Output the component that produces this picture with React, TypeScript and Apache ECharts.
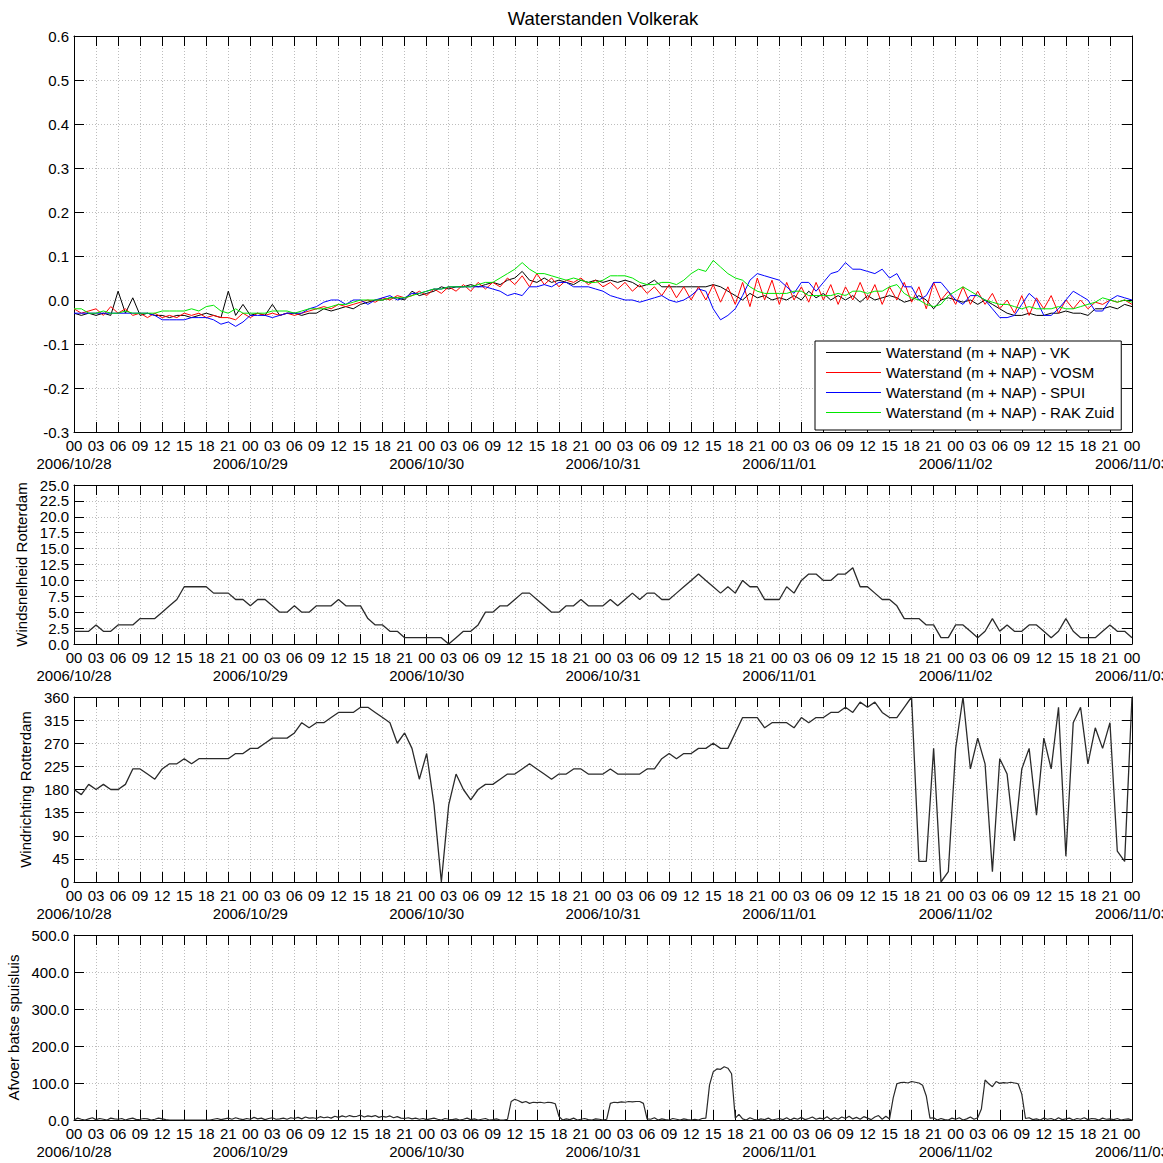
import React, { useEffect, useRef } from "react";
import * as echarts from "echarts";

const FONT = "'Liberation Sans', Arial, sans-serif";

const dayLabels = ["2006/10/28", "2006/10/29", "2006/10/30", "2006/10/31", "2006/11/01", "2006/11/02", "2006/11/03"];

const seriesNames = [
  "Waterstand (m + NAP) - VK",
  "Waterstand (m + NAP) - VOSM",
  "Waterstand (m + NAP) - SPUI",
  "Waterstand (m + NAP) - RAK Zuid",
];

// hourly water levels, 2006/10/28 00:00 .. 2006/11/03 00:00
const levelVK = [
  -0.03, -0.035, -0.03, -0.035, -0.03, -0.035, 0.02, -0.03, 0.005, -0.035, -0.03, -0.035,
  -0.035, -0.04, -0.035, -0.035, -0.04, -0.035, -0.03, -0.035, -0.04, 0.02, -0.035, -0.01,
  -0.035, -0.03, -0.035, -0.01, -0.035, -0.03, -0.03, -0.035, -0.03, -0.03, -0.02, -0.025,
  -0.02, -0.015, -0.02, -0.01, -0.005, 0.0, 0.0, 0.005, 0.005, 0.0, 0.02, 0.01,
  0.015, 0.02, 0.03, 0.025, 0.03, 0.03, 0.035, 0.03, 0.035, 0.04, 0.035, 0.045,
  0.05, 0.065, 0.045, 0.04, 0.05, 0.04, 0.045, 0.04, 0.035, 0.045, 0.04, 0.045,
  0.04, 0.045, 0.04, 0.045, 0.04, 0.03, 0.035, 0.045, 0.03, 0.03, 0.03, 0.03,
  0.03, 0.03, 0.03, 0.035, 0.03, 0.02, 0.01, 0.0, 0.015, 0.005, 0.01, 0.0,
  0.005, 0.0, 0.01, 0.0, 0.02, 0.005, 0.015, 0.0, 0.01, 0.0, 0.01, -0.005,
  0.01, 0.0, 0.005, 0.01, 0.005, -0.005, 0.0, 0.01, 0.0, -0.02, 0.0, 0.005,
  0.0, -0.005, 0.0, -0.01, 0.0, -0.01, -0.02, -0.03, -0.035, -0.035, -0.03, -0.035,
  -0.035, -0.03, -0.03, -0.025, -0.03, -0.03, -0.035, -0.02, -0.02, -0.015, -0.02, -0.01,
  -0.015,
];

const levelVOSM = [
  -0.02, -0.03, -0.025, -0.02, -0.035, -0.015, -0.03, -0.02, -0.035, -0.03, -0.04, -0.03,
  -0.04, -0.035, -0.04, -0.03, -0.035, -0.03, -0.04, -0.035, -0.04, -0.04, -0.045, -0.03,
  -0.04, -0.03, -0.035, -0.03, -0.035, -0.03, -0.035, -0.03, -0.025, -0.02, -0.015, -0.02,
  -0.01, -0.015, -0.01, -0.005, 0.0, -0.005, 0.005, 0.0, 0.01, 0.005, 0.01, 0.02,
  0.01, 0.025, 0.015, 0.03, 0.02, 0.035, 0.02, 0.04, 0.025, 0.04, 0.03, 0.05,
  0.035, 0.055, 0.03, 0.06, 0.035, 0.05, 0.03, 0.045, 0.04, 0.05, 0.035, 0.045,
  0.03, 0.04, 0.025, 0.04, 0.02, 0.035, 0.015, 0.03, 0.01, 0.035, 0.005, 0.03,
  0.0, 0.03, 0.0, 0.035, -0.005, 0.03, -0.01, 0.04, -0.015, 0.05, 0.0, 0.045,
  -0.01, 0.04, 0.0, 0.03, -0.005, 0.04, 0.0, 0.035, -0.01, 0.03, 0.0, 0.04,
  0.0, 0.035, -0.01, 0.03, 0.0, 0.04, -0.005, 0.03, -0.02, 0.04, 0.0, 0.02,
  -0.01, 0.03, -0.01, 0.02, -0.01, 0.015, -0.02, 0.0, -0.03, 0.01, -0.035, 0.005,
  -0.02, 0.01, -0.03, 0.0, -0.02, 0.0, -0.02, -0.005, -0.01, 0.0, -0.005, 0.0,
  -0.01,
];

const levelSPUI = [
  -0.03, -0.03, -0.03, -0.03, -0.03, -0.03, -0.03, -0.03, -0.03, -0.03, -0.03, -0.035,
  -0.045, -0.045, -0.045, -0.045, -0.04, -0.04, -0.04, -0.045, -0.055, -0.05, -0.06, -0.05,
  -0.035, -0.035, -0.035, -0.04, -0.035, -0.03, -0.03, -0.03, -0.02, -0.015, -0.005, 0.0,
  0.0, -0.01, 0.0, 0.0, -0.01, 0.0, 0.005, 0.01, 0.0, 0.005, 0.015, 0.015,
  0.02, 0.025, 0.025, 0.03, 0.03, 0.03, 0.03, 0.03, 0.03, 0.025, 0.02, 0.01,
  0.015, 0.01, 0.03, 0.03, 0.035, 0.03, 0.04, 0.04, 0.03, 0.03, 0.03, 0.025,
  0.02, 0.01, 0.005, 0.0, 0.0, -0.005, 0.0, 0.005, 0.01, 0.0, -0.005, 0.0,
  0.01, 0.025, 0.02, -0.02, -0.045, -0.035, -0.02, 0.01, 0.045, 0.06, 0.055, 0.05,
  0.045, 0.03, 0.015, 0.04, 0.04, 0.02, 0.04, 0.06, 0.065, 0.085, 0.07, 0.07,
  0.065, 0.06, 0.07, 0.05, 0.06, 0.03, 0.03, 0.0, 0.01, 0.04, 0.04, 0.02,
  0.0, -0.01, 0.01, 0.01, 0.0, -0.02, -0.04, -0.04, -0.035, -0.01, 0.015, 0.0,
  -0.035, -0.035, -0.02, 0.0, 0.02, 0.01, 0.0, -0.025, -0.025, 0.0, 0.01, 0.005,
  0.0,
];

const levelRAK = [
  -0.02, -0.02, -0.03, -0.03, -0.025, -0.03, -0.03, -0.025, -0.03, -0.03, -0.03, -0.03,
  -0.025, -0.025, -0.025, -0.025, -0.02, -0.025, -0.015, -0.012, -0.025, -0.03, -0.02, -0.03,
  -0.03, -0.03, -0.03, -0.025, -0.025, -0.025, -0.03, -0.025, -0.02, -0.02, -0.02, -0.015,
  -0.01, -0.01, -0.005, 0.0, 0.0, 0.0, 0.0, 0.005, 0.005, 0.005, 0.01, 0.015,
  0.02, 0.025, 0.025, 0.03, 0.03, 0.03, 0.03, 0.035, 0.04, 0.04, 0.05, 0.06,
  0.07, 0.085, 0.07, 0.06, 0.06, 0.055, 0.05, 0.045, 0.05, 0.045, 0.04, 0.04,
  0.045, 0.055, 0.055, 0.055, 0.05, 0.04, 0.035, 0.035, 0.04, 0.04, 0.035, 0.045,
  0.06, 0.07, 0.065, 0.09, 0.075, 0.06, 0.05, 0.045, 0.03, 0.02, 0.015, 0.015,
  0.015, 0.015, 0.02, 0.02, 0.01, 0.01, 0.01, 0.01, 0.015, 0.01, 0.02, 0.02,
  0.015, 0.02, 0.02, 0.03, 0.035, 0.015, 0.005, 0.0, -0.01, -0.015, -0.01, 0.01,
  0.02, 0.03, 0.02, 0.01, 0.0, -0.005, -0.01, -0.01, -0.015, -0.02, -0.015, -0.02,
  -0.02, -0.02, -0.015, -0.02, -0.02, -0.015, -0.01, -0.005, 0.005, 0.0, -0.005, 0.0,
  -0.005,
];

// hourly wind speed Rotterdam
const windSpeed = [
  2, 2, 2, 3, 2, 2, 3, 3, 3, 4, 4, 4,
  5, 6, 7, 9, 9, 9, 9, 8, 8, 8, 7, 7,
  6, 7, 7, 6, 5, 5, 6, 5, 5, 6, 6, 6,
  7, 6, 6, 6, 4, 3, 3, 2, 2, 1, 1, 1,
  1, 1, 1, 0, 1, 2, 2, 3, 5, 5, 6, 6,
  7, 8, 8, 7, 6, 5, 5, 6, 6, 7, 6, 6,
  6, 7, 6, 7, 8, 7, 8, 8, 7, 7, 8, 9,
  10, 11, 10, 9, 8, 9, 8, 10, 9, 9, 7, 7,
  7, 9, 8, 10, 11, 11, 10, 10, 11, 11, 12, 9,
  9, 8, 7, 7, 6, 4, 4, 4, 3, 3, 1, 1,
  3, 3, 2, 1, 2, 4, 2, 3, 2, 2, 3, 3,
  2, 1, 2, 4, 2, 1, 1, 1, 2, 3, 2, 2,
  1,
];

// hourly wind direction Rotterdam
const windDir = [
  180, 170, 190, 180, 190, 180, 180, 190, 220, 220, 210, 200,
  220, 230, 230, 240, 230, 240, 240, 240, 240, 240, 250, 250,
  260, 260, 270, 280, 280, 280, 290, 310, 300, 310, 310, 320,
  330, 330, 330, 340, 340, 330, 320, 310, 270, 290, 260, 200,
  250, 150, 0, 150, 210, 180, 160, 180, 190, 190, 200, 210,
  210, 220, 230, 220, 210, 200, 210, 210, 220, 220, 210, 210,
  210, 220, 210, 210, 210, 210, 220, 220, 240, 250, 240, 250,
  250, 260, 260, 270, 260, 260, 290, 320, 320, 320, 300, 310,
  310, 310, 300, 320, 310, 320, 320, 330, 330, 340, 330, 350,
  340, 350, 330, 320, 320, 340, 360, 40, 40, 260, 0, 20,
  260, 360, 220, 280, 230, 20, 240, 210, 80, 220, 260, 130,
  280, 220, 340, 50, 310, 340, 230, 300, 260, 310, 60, 40,
  360,
];

// half-hourly discharge Batse spuisluis
const discharge = [
  0, 5, 2, 0, 3, 6, 1, 4, 2, 0, 5, 3,
  2, 4, 0, 3, 5, 1, 2, 4, 3, 0, 2, 5,
  3, 1, 0, 0, 0, 0, 0, 0, 0, 0, 0, 0,
  0, 0, 2, 4, 1, 3, 5, 2, 6, 3, 1, 4,
  2, 7, 3, 5, 1, 4, 6, 2, 3, 5, 2, 6,
  4, 7, 3, 8, 5, 6, 4, 9, 6, 8, 5, 10,
  7, 11, 8, 12, 9, 10, 13, 8, 11, 9, 12, 7,
  10, 8, 11, 6, 9, 5, 4, 6, 3, 5, 2, 4,
  1, 3, 5, 2, 0, 4, 2, 1, 3, 0, 2, 5,
  1, 3, 0, 2, 4, 0, 1, 3, 0, 0, 2, 50,
  56, 52, 47, 50, 45, 48, 47, 48, 46, 48, 47, 44,
  10, 0, 3, 1, 5, 0, 2, 4, 1, 0, 3, 2,
  0, 2, 45, 48, 47, 49, 48, 50, 49, 50, 50, 45,
  3, 2, 6, 0, 3, 1, 0, 4, 2, 0, 3, 1,
  0, 2, 0, 4, 5, 95, 130, 138, 137, 144, 140, 125,
  5, 15, 3, 0, 6, 2, 0, 3, 1, 5, 0, 2,
  4, 1, 6, 0, 5, 2, 7, 1, 4, 8, 2, 5,
  3, 9, 1, 6, 2, 8, 4, 10, 3, 7, 2, 9,
  5, 1, 8, 12, 2, 10, 3, 60, 98, 101, 102, 100,
  104, 102, 100, 94, 65, 5, 6, 0, 4, 1, 0, 5,
  2, 6, 0, 3, 8, 2, 6, 30, 108, 98, 90, 104,
  99, 101, 100, 102, 100, 98, 70, 4, 6, 1, 3, 0,
  5, 2, 4, 0, 6, 1, 3, 5, 0, 4, 2, 6,
  1, 4, 3, 0, 5, 2, 3, 1, 4, 0, 2, 3,
  0,
];

const levelColors = ["#000000", "#ff0000", "#0000ff", "#00e600"];

function hourLabel(v: number) {
  const hh = Math.round(v) % 24;
  return (hh < 10 ? "0" : "") + hh;
}

function dayLabel(v: number) {
  return dayLabels[Math.round(v / 24)] || "";
}

function fixed1(v: number) {
  if (Math.abs(v) < 1e-9) return "0.0";
  return v.toFixed(1);
}

const App = () => {
  const ref = useRef<HTMLDivElement>(null);
  useEffect(() => {
    if (!ref.current) return;
    const chart = echarts.init(ref.current, undefined, { renderer: "svg" });
    const L = 74;
    const W = 1058;
    const grids = [
      { top: 36, height: 396 },
      { top: 485, height: 159 },
      { top: 697, height: 185 },
      { top: 935, height: 185 },
    ];
    const yDefs = [
      { min: -0.3, max: 0.6, interval: 0.1, fmt: fixed1, name: "", gap: 0 },
      { min: 0, max: 25, interval: 2.5, fmt: fixed1, name: "Windsnelheid Rotterdam", gap: 43 },
      { min: 0, max: 360, interval: 45, fmt: (v: number) => String(Math.round(v)), name: "Windrichting Rotterdam", gap: 38 },
      { min: 0, max: 500, interval: 100, fmt: fixed1, name: "Afvoer batse spuisluis", gap: 51 },
    ];
    const axisLine = { show: true, onZero: false, lineStyle: { color: "#000", width: 1 } };
    const tick = { show: true, inside: true, length: 10, lineStyle: { color: "#000", width: 1 } };
    const split = { show: true, lineStyle: { color: "#bdbdbd", type: [1, 2], width: 1 } };
    const labelText = { color: "#000", fontFamily: FONT, fontSize: 15 };
    const xAxes: any[] = [];
    const yAxes: any[] = [];
    grids.forEach((g, i) => {
      // hours axis (bottom)
      xAxes.push({
        type: "value", gridIndex: i, min: 0, max: 144, interval: 3, position: "bottom",
        axisLine, axisTick: tick, splitLine: split,
        axisLabel: { show: true, formatter: hourLabel, margin: 6, ...labelText, showMinLabel: true, showMaxLabel: true },
      });
      // dates axis (bottom, second line)
      xAxes.push({
        type: "value", gridIndex: i, min: 0, max: 144, interval: 24, position: "bottom",
        axisLine: { show: false, onZero: false }, axisTick: { show: false }, splitLine: { show: false },
        axisLabel: { show: true, formatter: dayLabel, margin: 24, ...labelText, showMinLabel: true, showMaxLabel: true },
      });
      // top box edge
      xAxes.push({
        type: "value", gridIndex: i, min: 0, max: 144, interval: 3, position: "top",
        axisLine, axisTick: tick, splitLine: { show: false }, axisLabel: { show: false },
      });
      const d = yDefs[i];
      yAxes.push({
        type: "value", gridIndex: i, min: d.min, max: d.max, interval: d.interval, position: "left",
        axisLine, axisTick: tick, splitLine: split,
        axisLabel: { formatter: d.fmt, margin: 5, ...labelText, showMinLabel: true, showMaxLabel: true },
        name: d.name, nameLocation: "middle", nameGap: d.gap,
        nameTextStyle: labelText,
      });
      yAxes.push({
        type: "value", gridIndex: i, min: d.min, max: d.max, interval: d.interval, position: "right",
        axisLine, axisTick: tick, splitLine: { show: false }, axisLabel: { show: false },
      });
    });

    const levels = [levelVK, levelVOSM, levelSPUI, levelRAK];
    const series: any[] = levels.map((arr, k) => ({
      type: "line", name: seriesNames[k], xAxisIndex: 0, yAxisIndex: 0,
      data: arr.map((v, h) => [h, v]), symbol: "none", showSymbol: false,
      lineStyle: { color: levelColors[k], width: 1 }, itemStyle: { color: levelColors[k] },
    }));
    series.push({
      type: "line", name: "wind speed", xAxisIndex: 3, yAxisIndex: 2,
      data: windSpeed.map((v, h) => [h, v]), symbol: "none",
      lineStyle: { color: "#2a2a2a", width: 1.3 },
    });
    series.push({
      type: "line", name: "wind direction", xAxisIndex: 6, yAxisIndex: 4,
      data: windDir.map((v, h) => [h, v]), symbol: "none",
      lineStyle: { color: "#2a2a2a", width: 1.3 },
    });
    series.push({
      type: "line", name: "discharge", xAxisIndex: 9, yAxisIndex: 6,
      data: discharge.map((v, i) => [i / 2, v]), symbol: "none",
      lineStyle: { color: "#2a2a2a", width: 1.2 },
    });

    chart.setOption({
      animation: false,
      backgroundColor: "#fff",
      textStyle: { fontFamily: FONT },
      grid: grids.map((g) => ({ left: L, width: W, top: g.top, height: g.height, containLabel: false, outerBoundsMode: "none", show: false })),
      xAxis: xAxes,
      yAxis: yAxes,
      legend: {
        data: seriesNames.map((n, k) => ({ name: n, icon: "rect", itemStyle: { color: levelColors[k] } })),
        orient: "vertical", left: 815, top: 341,
        itemWidth: 55, itemHeight: 1, itemGap: 5, padding: [4, 7, 10, 11],
        borderColor: "#000", borderWidth: 1, backgroundColor: "#fff", borderRadius: 0,
        selectedMode: false, z: 10,
        textStyle: labelText,
      },
      graphic: [
        {
          type: "text", x: 603, y: 18, z: 10,
          style: { text: "Waterstanden Volkerak", align: "center", verticalAlign: "middle", fill: "#000", font: "18.5px 'Liberation Sans', Arial, sans-serif" },
        },
      ],
      series,
    });
    return () => chart.dispose();
  }, []);
  return <div ref={ref} style={{ position: "absolute", left: 0, top: 0, width: 1163, height: 1163, background: "#fff" }} />;
};

export default App;
